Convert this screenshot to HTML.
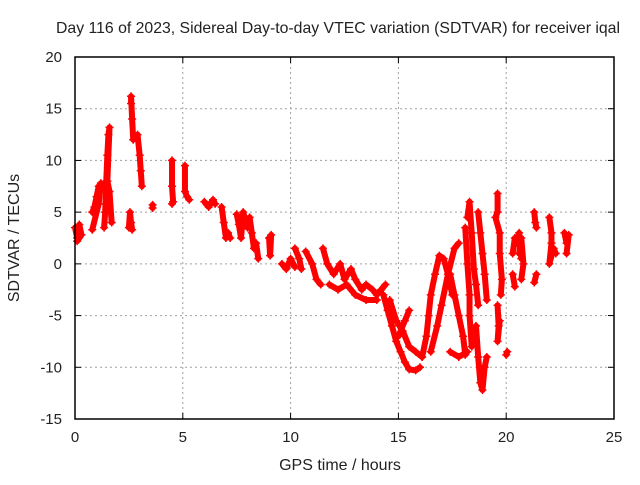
<!DOCTYPE html>
<html><head><meta charset="utf-8"><style>
body{margin:0;background:#fff}
svg text{font-family:"Liberation Sans",sans-serif;font-size:15px;fill:#222}
</style></head><body>
<svg id="c" width="640" height="480" viewBox="0 0 640 480">
<text x="338" y="33" text-anchor="middle" style="font-size:15.8px">Day 116 of 2023, Sidereal Day-to-day VTEC variation (SDTVAR) for receiver iqal</text>
<text x="340" y="470" text-anchor="middle" style="font-size:16px">GPS time / hours</text>
<text transform="translate(19,238) rotate(-90)" text-anchor="middle" style="font-size:16px">SDTVAR / TECUs</text>
<g id="grid"></g><g id="marks"></g><g id="axes"></g>
</svg>
<script>
const xTicks=[0,5,10,15,20,25];
const yTicks=[-15,-10,-5,0,5,10,15,20];
const tracks=[
[[0,3.5],[0.1,2.5],[0.2,3.8],[0.3,2.8],[0.1,2.2]],
[[0.8,5],[0.9,5.5],[1.0,6.5],[1.1,7.5],[1.2,7.8],[1.1,5.8],[0.8,3.3]],
[[1.35,3.5],[1.4,5],[1.45,8],[1.5,10.5],[1.55,12.5],[1.6,13.2],[1.5,8],[1.6,7],[1.7,4]],
[[2.5,3.5],[2.55,5],[2.6,4],[2.65,3.3]],
[[2.7,12],[2.65,14],[2.6,16.2],[2.6,15.5]],
[[2.9,12.5],[3.0,10.5],[3.05,9],[3.1,7.5]],
[[3.6,5.7],[3.6,5.4]],
[[4.5,10],[4.5,7.5],[4.55,6],[4.5,5.8]],
[[5.1,9.5],[5.1,7],[5.2,6.5],[5.3,6.2]],
[[6.0,6],[6.2,5.5],[6.4,6.2],[6.5,5.8]],
[[6.8,5.5],[6.9,4],[7.0,2.5],[7.1,3],[7.2,2.5]],
[[7.5,4.8],[7.6,3.8],[7.7,2.5],[7.8,5],[8.0,3.5]],
[[8.1,4.5],[8.2,3],[8.3,1.5],[8.4,2],[8.5,0.5]],
[[9.0,2.5],[9.05,0.8],[9.1,2.8]],
[[9.6,0],[9.8,-0.5],[10.0,0.5],[10.2,-0.3]],
[[10.2,1.5],[10.4,0.5],[10.5,-0.5]],
[[10.7,1.2],[11.0,0],[11.2,-1.5],[11.4,-2]],
[[11.5,1.5],[11.7,0],[12.0,-1],[12.3,0],[12.5,-1.5],[12.8,-0.5],[13.0,-1.5],[13.3,-2.5],[13.5,-2],[13.8,-2.5],[14.0,-3],[14.2,-2.5],[14.4,-2]],
[[11.8,-2],[12.2,-2.5],[12.6,-2],[13.0,-3],[13.5,-3.5],[14,-3.5]],
[[14.3,-3],[14.5,-4.5],[14.7,-6],[14.9,-7.5],[15.1,-8.5],[15.3,-9.5],[15.5,-10.2],[15.8,-10.3],[16.0,-10]],
[[14.6,-3.5],[14.9,-5.5],[15.2,-6.5],[15.5,-8],[15.8,-8.5],[16.1,-9]],
[[15.0,-7],[15.3,-5.5],[15.5,-4.5]],
[[16.1,-9],[16.3,-7],[16.4,-5],[16.5,-3],[16.7,-1],[16.9,0.8],[17.1,0.5],[17.3,-1],[17.5,-3]],
[[16.5,-8.5],[16.8,-6],[17.0,-4],[17.3,-1],[17.6,1.5],[17.8,2]],
[[17.4,-1],[17.6,-3],[17.8,-5],[18.0,-7],[18.1,-8.8]],
[[17.4,-8.5],[17.8,-9],[18.2,-8.5]],
[[18.1,3.5],[18.2,0],[18.3,-3],[18.3,-5],[18.4,-8]],
[[18.2,4.5],[18.3,6],[18.4,3],[18.5,-0.5],[18.6,-2],[18.7,-4]],
[[18.6,-6],[18.7,-9],[18.8,-11.5],[18.9,-12.2],[19,-10],[19.1,-9]],
[[18.7,5],[18.8,3],[18.9,1],[19.0,-1],[19.1,-3.5]],
[[19.6,6.8],[19.6,5],[19.5,4.5],[19.7,3],[19.7,1],[19.8,-1.5],[19.75,-3]],
[[19.6,-4],[19.65,-6],[19.6,-7.5],[19.7,-5.5]],
[[20,-8.8],[20.05,-8.5]],
[[20.3,1],[20.4,2.5],[20.5,2],[20.6,3],[20.7,0.5]],
[[20.3,-1],[20.4,-2.2]],
[[20.6,1],[20.7,2.5],[20.8,0],[20.7,-1.5]],
[[21.3,5],[21.35,4],[21.4,3.5]],
[[21.4,-1],[21.3,-1.8]],
[[22.0,4.5],[22.1,3],[22.1,2],[22.0,0],[22.2,1.5],[22.3,1]],
[[22.7,3],[22.8,2],[22.9,2.8],[22.8,1]]
];
const X0=75,X1=614,Y0=419,Y1=57;
const xs=t=>X0+(t-0)/25*(X1-X0);
const ys=v=>Y0-(v+15)/35*(Y0-Y1);
const NS="http://www.w3.org/2000/svg";
function mk(tag,attrs,parent){const e=document.createElementNS(NS,tag);for(const k in attrs)e.setAttribute(k,attrs[k]);parent.appendChild(e);return e;}
const grid=document.getElementById('grid'),axes=document.getElementById('axes'),marks=document.getElementById('marks');
xTicks.forEach(t=>{
 const x=xs(t);
 if(t>0&&t<25){const g=mk('line',{x1:x,x2:x,y1:Y1,y2:Y0,stroke:'#a0a0a0','stroke-dasharray':'2,3'},grid);
 
 }
 mk('line',{x1:x,x2:x,y1:Y0,y2:Y0-6,stroke:'#000'},axes);
 mk('line',{x1:x,x2:x,y1:Y1,y2:Y1+6,stroke:'#000'},axes);
 const l=mk('text',{x:x,y:Y0+23,'text-anchor':'middle'},axes);l.textContent=t;
 
 
});
yTicks.forEach(v=>{
 const y=ys(v);
 if(v>-15&&v<20){const g=mk('line',{x1:X0,x2:X1,y1:y,y2:y,stroke:'#a0a0a0','stroke-dasharray':'2,3'},grid);
 
 }
 mk('line',{x1:X0,x2:X0+6,y1:y,y2:y,stroke:'#000'},axes);
 mk('line',{x1:X1,x2:X1-6,y1:y,y2:y,stroke:'#000'},axes);
 const l=mk('text',{x:X0-13,y:y+5,'text-anchor':'end'},axes);l.textContent=v;
 
 
});
const fr=mk('rect',{x:X0,y:Y1,width:X1-X0,height:Y0-Y1,fill:'none',stroke:'#000','stroke-width':1.5},axes);


tracks.forEach(tr=>{
 const pl=mk('polyline',{points:tr.map(p=>xs(p[0])+','+ys(p[1])).join(' '),fill:'none',stroke:'#f00','stroke-width':6,'stroke-linejoin':'round','stroke-linecap':'round'},marks);
 
 
 tr.forEach(p=>{
  const x=xs(p[0]),y=ys(p[1]);
  const m=mk('path',{d:`M${x-4},${y}H${x+4}M${x},${y-4}V${y+4}`,stroke:'#f00','stroke-width':1.5},marks);
  
  
 });
});
</script>
</body></html>
